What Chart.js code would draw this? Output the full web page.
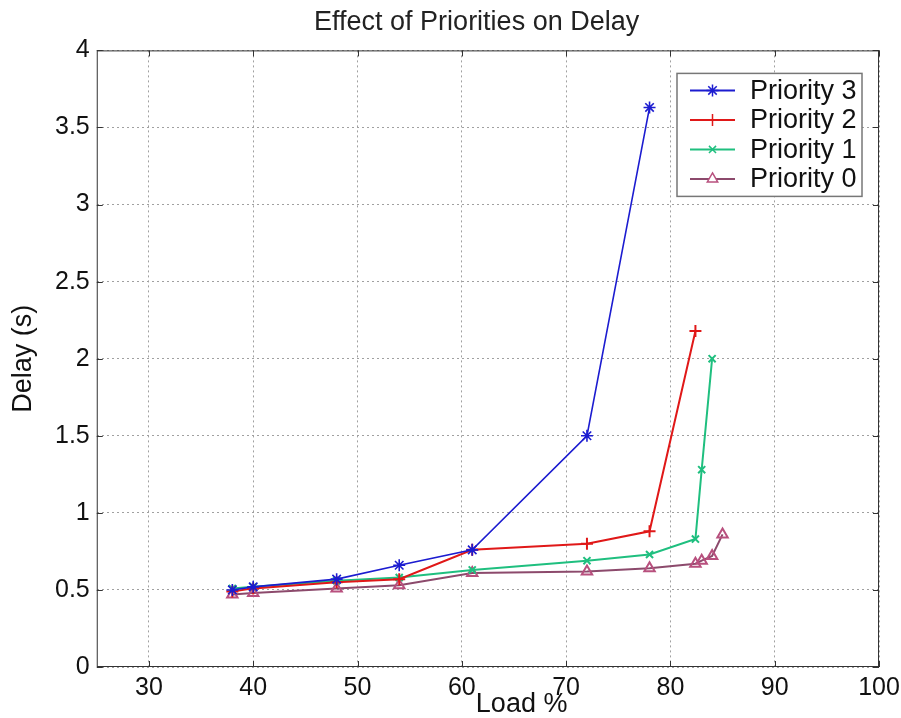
<!DOCTYPE html>
<html>
<head>
    <title>Effect of Priorities on Delay</title>
    <script src="https://cdn.jsdelivr.net/npm/chart.js"></script>
    <style>
        html, body { margin: 0; padding: 0; background: #fff; }
        #wrap { width: 901px; height: 718px; }
    </style>
</head>
<body>
    <div id="wrap"><canvas id="delayChart" width="901" height="718"></canvas></div>
    <script>
        // values
        const load3 = [38, 40, 48, 54, 61, 72, 78];
        const delay3 = [0.50, 0.52, 0.57, 0.66, 0.76, 1.50, 3.63];
        const load2 = [38, 40, 48, 54, 61, 72, 78, 82.4];
        const delay2 = [0.49, 0.51, 0.55, 0.57, 0.76, 0.80, 0.88, 2.18];
        const load1 = [38, 40, 48, 54, 61, 72, 78, 82.4, 83, 84];
        const delay1 = [0.51, 0.52, 0.56, 0.58, 0.63, 0.69, 0.73, 0.83, 1.28, 2.00];
        const load0 = [38, 40, 48, 54, 61, 72, 78, 82.4, 83, 84, 85];
        const delay0 = [0.47, 0.48, 0.51, 0.53, 0.61, 0.62, 0.64, 0.67, 0.69, 0.72, 0.86];
        const seriesNames = ['Priority 3', 'Priority 2', 'Priority 1', 'Priority 0'];
        const xTicks = [30, 40, 50, 60, 70, 80, 90, 100];
        const yTicks = [0, 0.5, 1, 1.5, 2, 2.5, 3, 3.5, 4];

        const FONT = 'Liberation Sans, Arial, Helvetica, sans-serif';

        function pts(xs, ys) {
            return xs.map((x, i) => ({ x: x, y: ys[i] }));
        }

        // dotted grid is drawn by the scales; this adds the box and inward tick marks
        const frame = {
            id: 'frame',
            afterDraw(chart) {
                const { ctx, chartArea: a, scales } = chart;
                ctx.save();
                ctx.strokeStyle = '#333';
                ctx.lineWidth = 1;
                ctx.strokeRect(a.left + 0.5, a.top + 0.5, a.right - a.left - 1, a.bottom - a.top - 1);
                ctx.beginPath();
                xTicks.forEach(v => {
                    const px = Math.round(scales.x.getPixelForValue(v)) + 0.5;
                    ctx.moveTo(px, a.bottom); ctx.lineTo(px, a.bottom - 6);
                    ctx.moveTo(px, a.top); ctx.lineTo(px, a.top + 6);
                });
                yTicks.forEach(v => {
                    const py = Math.round(scales.y.getPixelForValue(v)) + 0.5;
                    ctx.moveTo(a.left, py); ctx.lineTo(a.left + 6, py);
                    ctx.moveTo(a.right, py); ctx.lineTo(a.right - 6, py);
                });
                ctx.stroke();
                ctx.restore();
            }
        };

        // matlab style legend box in the upper right corner of the plot
        const boxLegend = {
            id: 'boxLegend',
            afterDraw(chart) {
                const { ctx, chartArea: a } = chart;
                const w = 185, h = 123;
                const x0 = a.right - 17 - w, y0 = a.top + 23;
                ctx.save();
                ctx.fillStyle = '#fff';
                ctx.fillRect(x0, y0, w, h);
                ctx.strokeStyle = '#777';
                ctx.lineWidth = 1.5;
                ctx.strokeRect(x0, y0, w, h);
                chart.data.datasets.forEach((ds, i) => {
                    const y = y0 + 17 + i * 29.5;
                    ctx.strokeStyle = ds.borderColor;
                    ctx.lineWidth = 2;
                    ctx.beginPath();
                    ctx.moveTo(x0 + 13, y);
                    ctx.lineTo(x0 + 58, y);
                    ctx.stroke();
                    if (Chart.helpers && Chart.helpers.drawPoint) {
                        ctx.strokeStyle = ds.pointBorderColor;
                        ctx.fillStyle = '#fff';
                        ctx.lineWidth = 1.5;
                        Chart.helpers.drawPoint(ctx, {
                            pointStyle: ds.pointStyle,
                            radius: ds.pointRadius,
                            rotation: 0,
                            borderWidth: 1.5
                        }, x0 + 35.5, y);
                    }
                    ctx.fillStyle = '#111';
                    ctx.font = '27px ' + FONT;
                    ctx.textBaseline = 'middle';
                    ctx.textAlign = 'left';
                    ctx.fillText(ds.label, x0 + 73, y + 1);
                });
                ctx.restore();
            }
        };

        const ctx = document.getElementById('delayChart').getContext('2d');
        const chart = new Chart(ctx, {
            type: 'line',
            data: {
                datasets: [
                    {
                        label: seriesNames[0],
                        data: pts(load3, delay3),
                        borderColor: '#1c1cd0',
                        pointBorderColor: '#1c1cd0',
                        pointBackgroundColor: '#1c1cd0',
                        borderWidth: 1.6,
                        pointStyle: 'star',
                        pointRadius: 6
                    },
                    {
                        label: seriesNames[1],
                        data: pts(load2, delay2),
                        borderColor: '#e01818',
                        pointBorderColor: '#e01818',
                        pointBackgroundColor: '#e01818',
                        borderWidth: 2,
                        pointStyle: 'cross',
                        pointRadius: 6
                    },
                    {
                        label: seriesNames[2],
                        data: pts(load1, delay1),
                        borderColor: '#1fbf7f',
                        pointBorderColor: '#1fbf7f',
                        pointBackgroundColor: '#1fbf7f',
                        borderWidth: 2,
                        pointStyle: 'crossRot',
                        pointRadius: 5
                    },
                    {
                        label: seriesNames[3],
                        data: pts(load0, delay0),
                        borderColor: '#8c4a6c',
                        pointBorderColor: '#b8507e',
                        pointBackgroundColor: 'rgba(255,255,255,0)',
                        borderWidth: 2,
                        pointStyle: 'triangle',
                        pointRadius: 6
                    }
                ]
            },
            options: {
                responsive: false,
                animation: false,
                layout: { padding: 0 },
                elements: {
                    line: { tension: 0, fill: false },
                    point: { borderWidth: 1.5, hoverRadius: 6 }
                },
                plugins: {
                    legend: { display: false },
                    tooltip: { enabled: false },
                    title: {
                        display: true,
                        fullSize: false,
                        text: 'Effect of Priorities on Delay   ',
                        color: '#222',
                        font: { family: FONT, size: 27, weight: 'normal' },
                        padding: { top: 6, bottom: 12 }
                    }
                },
                scales: {
                    x: {
                        type: 'linear',
                        min: 25,
                        max: 100,
                        afterBuildTicks: s => { s.ticks = xTicks.map(v => ({ value: v })); },
                        afterFit: s => { s.paddingRight = 22; },
                        grid: { color: '#a0a0a0', lineWidth: 1, drawTicks: false },
                        border: { display: false, dash: [2, 3] },
                        ticks: {
                            color: '#111',
                            padding: 6,
                            maxRotation: 0,
                            font: { family: FONT, size: 25 },
                            callback: v => String(v)
                        },
                        title: {
                            display: true,
                            text: '         Load %',
                            color: '#111',
                            font: { family: FONT, size: 27, lineHeight: 1 },
                            padding: { top: -18, bottom: 0 }
                        }
                    },
                    y: {
                        type: 'linear',
                        min: 0,
                        max: 4,
                        afterBuildTicks: s => { s.ticks = yTicks.map(v => ({ value: v })); },
                        grid: { color: '#a0a0a0', lineWidth: 1, drawTicks: false },
                        border: { display: false, dash: [2, 3] },
                        ticks: {
                            color: '#111',
                            padding: 7,
                            font: { family: FONT, size: 25 },
                            callback: v => String(v)
                        },
                        title: {
                            display: true,
                            text: 'Delay (s)',
                            color: '#111',
                            font: { family: FONT, size: 27, lineHeight: 1 },
                            padding: { top: 10, bottom: 11 }
                        }
                    }
                }
            },
            plugins: [frame, boxLegend]
        });
    </script>
</body>
</html>
